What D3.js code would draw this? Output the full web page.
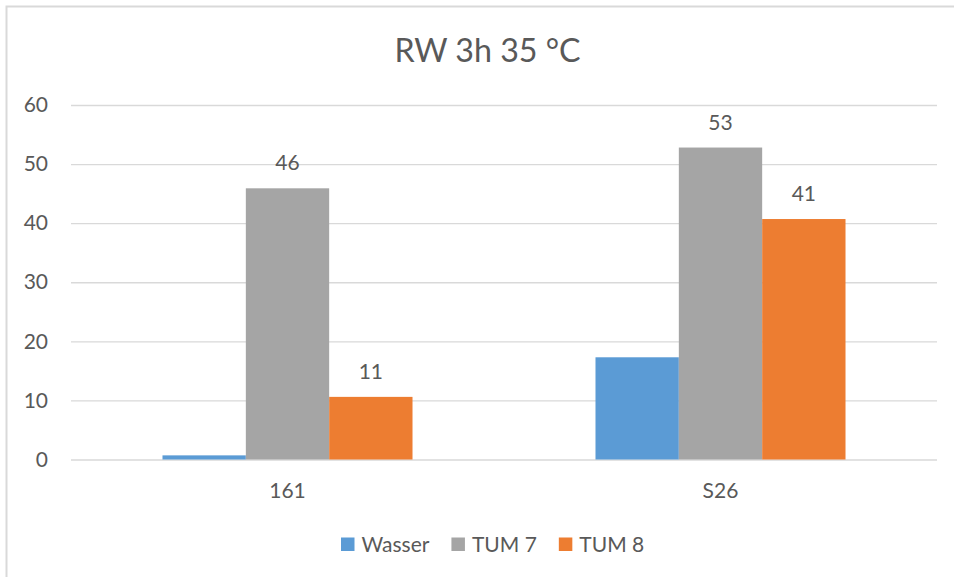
<!DOCTYPE html>
<html>
<head>
<meta charset="utf-8">
<script src="https://cdn.jsdelivr.net/npm/d3@7"></script>
<style>
  html, body { margin: 0; padding: 0; background: #fff; }
  svg { display: block; }
  text { font-family: Lato, "Open Sans", sans-serif; fill: #595959; }
</style>
</head>
<body>
<svg id="chart" width="954" height="577"></svg>
<script>
const title = "RW 3h 35 °C";
const categories = ["161", "S26"];
const seriesNames = ["Wasser", "TUM 7", "TUM 8"];
const seriesColors = ["#5B9BD5", "#A5A5A5", "#ED7D31"];
const wasser = [0.7, 17.3];
const tum7 = [45.9, 52.8];
const tum8 = [10.6, 40.7];
const labeledSeries = [false, true, true];
const yTicks = [0, 10, 20, 30, 40, 50, 60];

const seriesValues = [wasser, tum7, tum8];

const svg = d3.select("#chart");
const W = 954, H = 577;
const plot = { left: 71, right: 937, top: 105, bottom: 459.5 };
const fs = 21;

// chart border (extends past the right/bottom edge like the reference)
svg.append("rect")
  .attr("x", 6.5).attr("y", 6.5)
  .attr("width", W + 20).attr("height", H + 20)
  .attr("fill", "#fff").attr("stroke", "#D9D9D9").attr("stroke-width", 2);

const x0 = d3.scaleBand().domain(categories)
  .range([plot.left, plot.right])
  .paddingInner(0.4226).paddingOuter(0.2113);
const x1 = d3.scaleBand().domain(seriesNames).range([0, x0.bandwidth()]);
const y = d3.scaleLinear().domain([0, 60]).range([plot.bottom, plot.top]);

// gridlines
const yAxis = d3.axisLeft(y).tickValues(yTicks)
  .tickSize(-(plot.right - plot.left)).tickPadding(11).tickFormat(d3.format("d"));
const gy = svg.append("g").attr("transform", `translate(${plot.left},0)`).call(yAxis);
gy.select(".domain").remove();
gy.selectAll(".tick line").attr("stroke", "#D9D9D9").attr("stroke-width", 1.3);
gy.selectAll(".tick text").attr("font-size", fs).attr("fill", "#595959")
  .attr("font-family", "Lato, 'Open Sans', sans-serif").attr("x", -23);

// bars
const groups = svg.append("g").selectAll("g")
  .data(categories).join("g")
  .attr("transform", d => `translate(${x0(d)},0)`);

groups.selectAll("rect")
  .data((c, ci) => seriesNames.map((s, si) => ({ s, si, v: seriesValues[si][ci] })))
  .join("rect")
  .attr("x", d => x1(d.s))
  .attr("width", x1.bandwidth())
  .attr("y", d => y(d.v))
  .attr("height", d => y(0) - y(d.v))
  .attr("fill", d => seriesColors[d.si]);

// data labels
groups.selectAll("text.lbl")
  .data((c, ci) => seriesNames.map((s, si) => ({ s, si, v: seriesValues[si][ci] })).filter(d => labeledSeries[d.si]))
  .join("text").attr("class", "lbl")
  .attr("x", d => x1(d.s) + x1.bandwidth() / 2)
  .attr("y", d => y(d.v) - 18)
  .attr("text-anchor", "middle")
  .attr("font-size", fs)
  .text(d => d3.format(".0f")(d.v));

// category labels
svg.append("g").selectAll("text")
  .data(categories).join("text")
  .attr("x", d => x0(d) + x0.bandwidth() / 2)
  .attr("y", 497.5)
  .attr("text-anchor", "middle")
  .attr("font-size", fs)
  .text(d => d);

// title
svg.append("text")
  .attr("x", 487.5).attr("y", 62)
  .attr("text-anchor", "middle")
  .attr("font-size", 32.2)
  .text(title);

// legend
const legend = svg.append("g");
let lx = 341;
seriesNames.forEach((name, i) => {
  legend.append("rect").attr("x", lx).attr("y", 537.5).attr("width", 13.5).attr("height", 13.5)
    .attr("fill", seriesColors[i]);
  const t = legend.append("text").attr("x", lx + 20.5).attr("y", 551.5)
    .attr("font-size", fs).text(name);
  const w = t.node().getComputedTextLength();
  lx = lx + 20.5 + w + 22;
});
</script>
</body>
</html>
